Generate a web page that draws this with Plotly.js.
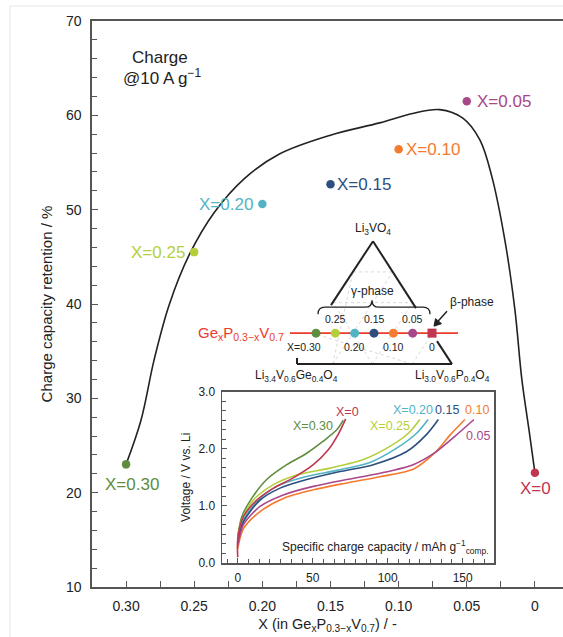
<!DOCTYPE html>
<html><head><meta charset="utf-8">
<script src="https://cdn.plot.ly/plotly-3.0.1.min.js"></script>
<style>html,body{margin:0;padding:0;background:#fff}#chart{width:563px;height:637px}</style>
</head><body><div id="chart"></div>
<script>
// ---------- main data ----------
const compositionX = [0.30, 0.25, 0.20, 0.15, 0.10, 0.05, 0];
const pointLabels = ['X=0.30', 'X=0.25', 'X=0.20', 'X=0.15', 'X=0.10', 'X=0.05', 'X=0'];
const retention = [23.0, 45.5, 50.6, 52.7, 56.4, 61.5, 22.1];
const seriesColors = ['#5e8d3f', '#b5cf3b', '#52b3c5', '#2c4f80', '#f47b2f', '#a8478a', '#c13550'];
const xTickVals = [0.30, 0.25, 0.20, 0.15, 0.10, 0.05, 0];
const xTickText = ['0.30', '0.25', '0.20', '0.15', '0.10', '0.05', '0'];
// guide curve
const fitX = [0.300, 0.289, 0.2794, 0.2684, 0.2537, 0.2353, 0.2132, 0.1875, 0.150, 0.114, 0.0897, 0.0699, 0.0529, 0.0404, 0.0316, 0.0221, 0.0147, 0.0096, 0.0044, 0.0];
const fitY = [23.0, 27.7, 34.1, 39.9, 45.2, 49.7, 53.3, 55.9, 57.9, 59.2, 60.2, 60.6, 59.7, 57.4, 53.5, 46.8, 39.4, 32.0, 26.7, 22.1];

// ---------- inset charge curves ----------
const cap030 = [0, 2.7, 9.3, 19.3, 32.7, 46, 57, 66, 70.4];
const volt030 = [0.46, 0.81, 1.13, 1.46, 1.72, 1.92, 2.13, 2.33, 2.50];
const cap025 = [0, 2.7, 10.4, 23.8, 39.3, 61.5, 83.8, 101.5, 113.8, 121.5];
const volt025 = [0.42, 0.75, 1.10, 1.37, 1.54, 1.66, 1.81, 2.04, 2.27, 2.51];
const cap020 = [0, 3.8, 12.7, 26, 43.8, 66, 88.2, 106, 119.3, 127];
const volt020 = [0.37, 0.75, 1.07, 1.34, 1.50, 1.62, 1.76, 2.01, 2.27, 2.51];
const cap015 = [0, 3.8, 14.9, 28.2, 46, 68.2, 90.4, 112.7, 126, 133.8];
const volt015 = [0.34, 0.72, 1.10, 1.31, 1.46, 1.60, 1.72, 1.95, 2.25, 2.51];
const cap010 = [0, 3.8, 14.9, 30.4, 50.4, 72.7, 94.9, 117, 131.5, 142, 151.5];
const volt010 = [0.25, 0.60, 0.90, 1.13, 1.28, 1.40, 1.51, 1.64, 1.93, 2.25, 2.51];
const cap005 = [0, 3.8, 14.9, 30.4, 50.4, 72.7, 94.9, 117, 131.5, 145, 157.5];
const volt005 = [0.31, 0.67, 0.99, 1.19, 1.34, 1.46, 1.57, 1.72, 1.93, 2.22, 2.51];
const cap000 = [0, 0, 3.8, 12.7, 23.8, 37, 50.4, 60.4, 67, 72];
const volt000 = [0.10, 0.42, 0.81, 1.10, 1.31, 1.49, 1.72, 1.98, 2.25, 2.52];
const insetCaps = [cap030, cap025, cap020, cap015, cap010, cap005, cap000];
const insetVolts = [volt030, volt025, volt020, volt015, volt010, volt005, volt000];
const insetLabels = ['X=0.30', 'X=0.25', 'X=0.20', '0.15', '0.10', '0.05', 'X=0'];
const insetLabelCap = [50.2, 101.5, 116.9, 139.5, 159.5, 160.2, 73.5];
const insetLabelVolt = [2.39, 2.40, 2.67, 2.67, 2.67, 2.23, 2.65];

// ---------- ternary inset ----------
const ternaryLevel = [0, 0, 0, 0, 0, 0, 0];
const ternaryTopLabels = ['0.25', '0.15', '0.05'];
const ternaryTopX = [0.25, 0.15, 0.05];
const ternaryBottomLabels = ['X=0.30', '0.20', '0.10', '0'];
const ternaryBottomX = [0.30, 0.20, 0.10, 0];

const FONT = 'Liberation Sans, Arial, Helvetica, sans-serif';
const INK = '#222';
const AX = '#555';

// helpers to place decoration (pixel -> overlay axis units)
const tx = px => (432 - px) * 0.30 / 116;
const ty = py => (333 - py) / 386.7;

const traces = [];
traces.push({x: fitX, y: fitY, type: 'scatter', mode: 'lines', line: {color: INK, width: 1.6, shape: 'spline', smoothing: 1}, hoverinfo: 'skip', xaxis: 'x', yaxis: 'y'});
traces.push({x: compositionX, y: retention, type: 'scatter', mode: 'markers', marker: {color: seriesColors, size: 8.5}, xaxis: 'x', yaxis: 'y'});
for (let i = 0; i < insetCaps.length; i++) {
  traces.push({x: insetCaps[i], y: insetVolts[i], type: 'scatter', mode: 'lines', line: {color: seriesColors[i], width: 1.6, shape: 'spline', smoothing: 0.8}, xaxis: 'x2', yaxis: 'y2'});
}
traces.push({x: compositionX, y: ternaryLevel, type: 'scatter', mode: 'markers',
  marker: {color: seriesColors, size: 9, symbol: ['circle','circle','circle','circle','circle','circle','square']},
  xaxis: 'x3', yaxis: 'y3'});

const annotations = [];
const mainLabelStyle = [
  {xanchor: 'center', xshift: 6, yshift: -20},
  {xanchor: 'right', xshift: -7, yshift: 0},
  {xanchor: 'right', xshift: -7, yshift: 0},
  {xanchor: 'left', xshift: 4, yshift: 0},
  {xanchor: 'left', xshift: 5, yshift: 0},
  {xanchor: 'left', xshift: 8, yshift: 0},
  {xanchor: 'center', xshift: 1, yshift: -16}
];
for (let i = 0; i < compositionX.length; i++) {
  annotations.push(Object.assign({x: compositionX[i], y: retention[i], xref: 'x', yref: 'y', text: pointLabels[i], showarrow: false,
    yanchor: 'middle', font: {family: FONT, size: 17, color: seriesColors[i]}}, mainLabelStyle[i]));
}
annotations.push({xref: 'paper', yref: 'paper', x: (160 - 92) / 471, y: (587 - 57) / 566, xanchor: 'center', yanchor: 'middle', text: 'Charge', showarrow: false, font: {family: FONT, size: 17, color: INK}});
annotations.push({xref: 'paper', yref: 'paper', x: (162 - 92) / 471, y: (587 - 77) / 566, xanchor: 'center', yanchor: 'middle', text: '@10 A g<sup>−1</sup>', showarrow: false, font: {family: FONT, size: 17, color: INK}});
for (let i = 0; i < insetLabels.length; i++) {
  annotations.push({xref: 'x2', yref: 'y2', x: insetLabelCap[i], y: insetLabelVolt[i], text: insetLabels[i], showarrow: false,
    font: {family: FONT, size: 12.5, color: seriesColors[i]}});
}
annotations.push({xref: 'x2', yref: 'y2', x: 28.2, y: 0.28, xanchor: 'left', text: 'Specific charge capacity / mAh g<sup>−1</sup><sub>comp.</sub>', showarrow: false,
  font: {family: FONT, size: 12, color: INK}});
// ternary annotations
const tf = (size, color) => ({family: FONT, size: size, color: color || INK});
for (let i = 0; i < ternaryTopLabels.length; i++) {
  annotations.push({xref: 'x3', yref: 'y3', x: ternaryTopX[i], y: 0, yshift: 14, text: ternaryTopLabels[i], showarrow: false, font: tf(10.5)});
}
for (let i = 0; i < ternaryBottomLabels.length; i++) {
  annotations.push({xref: 'x3', yref: 'y3', x: ternaryBottomX[i], y: 0, yshift: -14, xshift: i === 0 ? -12 : 0, text: ternaryBottomLabels[i], showarrow: false, font: tf(10.5)});
}
annotations.push({xref: 'x3', yref: 'y3', x: tx(373), y: ty(229), text: 'Li<sub>3</sub>VO<sub>4</sub>', showarrow: false, font: tf(12)});
annotations.push({xref: 'x3', yref: 'y3', x: tx(372), y: ty(291), text: 'γ-phase', showarrow: false, font: tf(12)});
annotations.push({xref: 'x3', yref: 'y3', x: tx(448), y: ty(302), xanchor: 'left', text: 'β-phase', showarrow: false, font: tf(12)});
annotations.push({xref: 'x3', yref: 'y3', x: tx(296), y: ty(376), text: 'Li<sub>3.4</sub>V<sub>0.6</sub>Ge<sub>0.4</sub>O<sub>4</sub>', showarrow: false, font: tf(12)});
annotations.push({xref: 'x3', yref: 'y3', x: tx(452), y: ty(376), text: 'Li<sub>3.0</sub>V<sub>0.6</sub>P<sub>0.4</sub>O<sub>4</sub>', showarrow: false, font: tf(12)});
annotations.push({xref: 'x3', yref: 'y3', x: tx(286), y: 0, xanchor: 'right', text: 'Ge<sub>x</sub>P<sub>0.3−x</sub>V<sub>0.7</sub>', showarrow: false, font: tf(15, '#ea3b2c')});

// shapes
const shapes = [];
const seg = (a, b, color, width, dash, layer) => ({type: 'line', xref: 'x3', yref: 'y3', x0: tx(a[0]), y0: ty(a[1]), x1: tx(b[0]), y1: ty(b[1]),
  line: {color: color, width: width, dash: dash || 'solid'}, layer: layer || 'above'});
const T = [373, 241], L = [293, 364], R = [452, 364];
const lerp = (p, q, t) => [p[0] + (q[0] - p[0]) * t, p[1] + (q[1] - p[1]) * t];
// faint grid
for (let k = 1; k < 4; k++) {
  const t = k / 4;
  shapes.push(seg(lerp(T, L, t), lerp(T, R, t), '#d8d8d8', 1, 'dot', 'below'));
  shapes.push(seg(lerp(L, R, t), lerp(T, R, t), '#d8d8d8', 1, 'dot', 'below'));
  shapes.push(seg(lerp(L, R, t), lerp(L, T, 1 - t), '#d8d8d8', 1, 'dot', 'below'));
}
shapes.push(seg(T, [331, 305], INK, 2));
shapes.push(seg(T, [416, 308], INK, 2));
shapes.push(seg([437, 341], R, INK, 2));
shapes.push(seg([297, 364], R, INK, 2));
shapes.push(seg([297, 364], [297, 358], INK, 2));
// red composition line
shapes.push(seg([290, 333], [458, 333], '#ea3b2c', 1.6, 'solid', 'below'));
const bp = (px, py) => tx(px) + ',' + ty(py);
// beta-phase arrow
shapes.push(seg([447, 311], [438, 321], INK, 1.5));
shapes.push({type: 'path', xref: 'x3', yref: 'y3', layer: 'above', line: {color: INK, width: 1}, fillcolor: INK,
  path: 'M' + bp(434, 326) + ' L' + bp(435.5, 318.5) + ' L' + bp(441.5, 323.5) + ' Z'});
// brace
shapes.push({type: 'path', xref: 'x3', yref: 'y3', layer: 'above', line: {color: INK, width: 1.3},
  path: 'M' + bp(318, 314) + ' Q' + bp(318, 307) + ' ' + bp(325, 307) + ' L' + bp(365, 307) + ' Q' + bp(372, 307) + ' ' + bp(372, 300) +
        ' Q' + bp(372, 307) + ' ' + bp(379, 307) + ' L' + bp(423, 307) + ' Q' + bp(430, 307) + ' ' + bp(430, 314)});
// faint figure frame
shapes.push({type: 'line', xref: 'paper', yref: 'paper', x0: -82 / 471, x1: -82 / 471, y0: (587 - 6) / 566, y1: -0.1, line: {color: '#e6e6e6', width: 1}});
shapes.push({type: 'line', xref: 'paper', yref: 'paper', x0: -82 / 471, x1: 1.05, y0: (587 - 6) / 566, y1: (587 - 6) / 566, line: {color: '#e6e6e6', width: 1}});

const tickFont = {family: FONT, size: 14, color: INK};
const layout = {
  width: 563, height: 637,
  margin: {l: 92, r: 0, t: 21, b: 50},
  paper_bgcolor: '#fff', plot_bgcolor: 'rgba(0,0,0,0)',
  showlegend: false,
  font: {family: FONT, color: INK},
  xaxis: {domain: [0, 1], range: [0.325, -0.0206], tickmode: 'array', tickvals: xTickVals, ticktext: xTickText,
    minor: {tickmode: 'linear', tick0: 0, dtick: 0.025, ticks: 'inside', ticklen: 6, tickcolor: AX, showgrid: false},
    ticks: 'inside', ticklen: 6, tickwidth: 1, tickcolor: AX, showline: true, linecolor: AX, linewidth: 1.6, mirror: true,
    showgrid: false, zeroline: false, tickfont: tickFont, ticklabelstandoff: 6,
    title: {text: 'X (in Ge<sub>x</sub>P<sub>0.3−x</sub>V<sub>0.7</sub>) / -', font: {family: FONT, size: 14.5, color: INK}, standoff: 5}},
  yaxis: {domain: [0, 1], range: [10, 70], dtick: 10, ticks: 'inside', ticklen: 6, tickwidth: 1, tickcolor: AX,
    minor: {dtick: 2, ticks: 'inside', ticklen: 5, tickcolor: AX, showgrid: false},
    showline: true, linecolor: AX, linewidth: 1.6, showgrid: false, zeroline: false, tickfont: tickFont, ticklabelstandoff: 6,
    title: {text: 'Charge capacity retention / %', font: {family: FONT, size: 15, color: INK}, standoff: 10}},
  xaxis2: {domain: [(222 - 92) / 471, (494 - 92) / 471], anchor: 'y2', range: [-10.5, 170.9], tickvals: [0, 50, 100, 150],
    ticks: 'inside', ticklen: 5, tickwidth: 1, tickcolor: AX, minor: {dtick: 50 / 7, tick0: 0, ticks: 'inside', ticklen: 4, tickcolor: AX},
    showline: true, linecolor: AX, linewidth: 1.5, mirror: true, showgrid: false, zeroline: false,
    tickfont: {family: FONT, size: 12, color: INK}, ticklabelstandoff: 3},
  yaxis2: {domain: [(587 - 563) / 566, (587 - 391.5) / 566], anchor: 'x2', range: [0, 3], tickvals: [0, 1, 2, 3], ticktext: ['0.0', '1.0', '2.0', '3.0'],
    ticks: 'inside', ticklen: 5, tickwidth: 1, tickcolor: AX, minor: {dtick: 1 / 6, tick0: 0, ticks: 'inside', ticklen: 4, tickcolor: AX},
    showline: true, linecolor: AX, linewidth: 1.5, mirror: true, showgrid: false, zeroline: false,
    tickfont: {family: FONT, size: 12, color: INK}, ticklabelstandoff: 3,
    title: {text: 'Voltage / V vs. Li', font: {family: FONT, size: 12, color: INK}, standoff: 5}},
  xaxis3: {overlaying: 'x', anchor: 'y3', range: [tx(92), tx(563)], visible: false, showgrid: false, zeroline: false},
  yaxis3: {overlaying: 'y', anchor: 'x3', range: [ty(587), ty(20.7)], visible: false, showgrid: false, zeroline: false},
  annotations: annotations,
  shapes: shapes
};
Plotly.newPlot('chart', traces, layout, {displayModeBar: false, staticPlot: true});
</script>
</body></html>
